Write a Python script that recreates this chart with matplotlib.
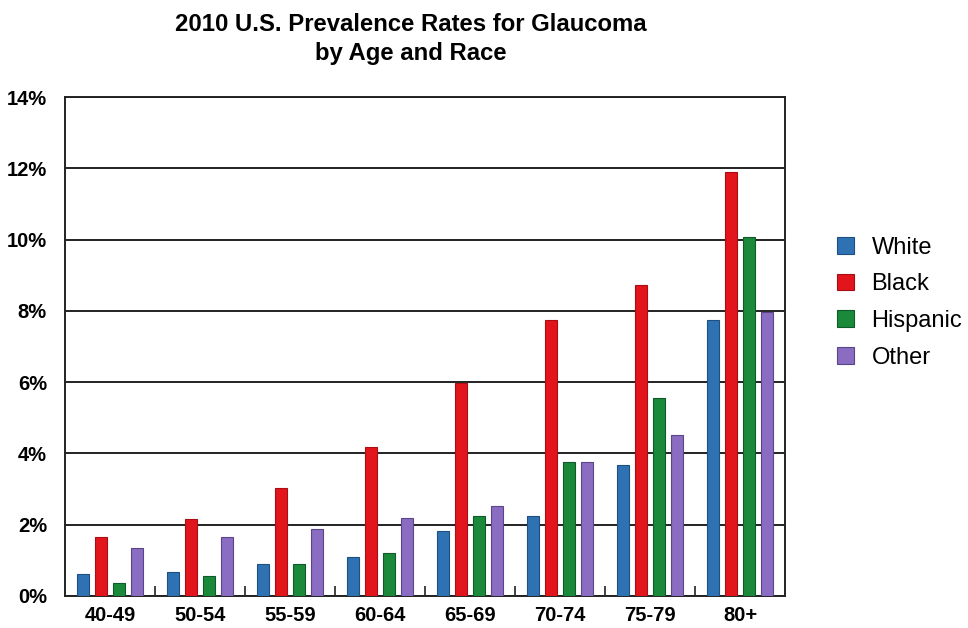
import matplotlib
matplotlib.use("Agg")
import matplotlib.pyplot as plt
import numpy as np
from matplotlib.patches import Patch

plt.rcParams['font.family'] = ['Liberation Sans', 'DejaVu Sans']

age_groups = ["40-49", "50-54", "55-59", "60-64", "65-69", "70-74", "75-79", "80+"]
white = [0.62, 0.68, 0.90, 1.10, 1.81, 2.23, 3.67, 7.75]
black = [1.65, 2.15, 3.02, 4.19, 5.97, 7.75, 8.73, 11.9]
hispanic = [0.36, 0.56, 0.90, 1.21, 2.23, 3.75, 5.56, 10.08]
other = [1.36, 1.66, 1.89, 2.18, 2.52, 3.75, 4.53, 7.97]
series_names = ["White", "Black", "Hispanic", "Other"]
yticks = [0, 2, 4, 6, 8, 10, 12, 14]

colors = ["#2f72b3", "#e3151c", "#1a8a3a", "#8a6cc2"]
edges = ["#1d4f80", "#a80e13", "#10592a", "#5b4589"]

fig = plt.figure(figsize=(9.68, 6.28), dpi=100)
ax = fig.add_axes([0.0671, 0.051, 0.7439, 0.7945])

x = np.arange(len(age_groups))
offsets = [-0.3, -0.1, 0.1, 0.3]
w = 0.135
data = [white, black, hispanic, other]
for vals, off, c, e in zip(data, offsets, colors, edges):
    ax.bar(x + off, vals, width=w, color=c, edgecolor=e, linewidth=0.8, zorder=3)

ax.set_xlim(-0.5, len(age_groups) - 0.5)
ax.set_ylim(0, 14)
ax.set_yticks(yticks)
ax.set_yticklabels([f"{t}%" for t in yticks], fontsize=14.5, fontweight='bold')
ax.yaxis.grid(True, color="#222222", linewidth=1.4, zorder=1)
ax.tick_params(axis='y', length=0, pad=13)

ax.set_xticks(x)
ax.set_xticklabels(age_groups, fontsize=14.5, fontweight='bold')
ax.tick_params(axis='x', length=0, pad=7)
ax.set_xticks(np.arange(0.5, len(age_groups) - 1, 1.0), minor=True)
ax.tick_params(axis='x', which='minor', direction='in', length=7, width=1.2, color="#222222")

for s in ax.spines.values():
    s.set_color("#222222")
    s.set_linewidth(1.4)

fig.text(0.4246, 0.938, "2010 U.S. Prevalence Rates for Glaucoma\nby Age and Race",
         ha='center', va='center', fontsize=17.2, fontweight='bold', linespacing=1.3)

handles = [Patch(facecolor=c, edgecolor=e, linewidth=0.8) for c, e in zip(colors, edges)]
fig.legend(handles, series_names, loc='center left', bbox_to_anchor=(0.843, 0.518),
           frameon=False, fontsize=17, handlelength=0.7, handleheight=0.7,
           handletextpad=0.75, labelspacing=0.62)

fig.savefig("out.png", dpi=100)
